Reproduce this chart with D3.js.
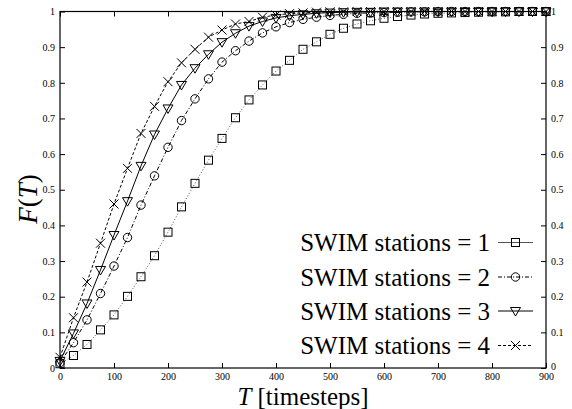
<!DOCTYPE html>
<html>
<head>
<meta charset="utf-8">
<script src="https://cdn.jsdelivr.net/npm/d3@7"></script>
<style>
  body { margin: 0; background: #fff; }
  svg { display: block; font-family: "Liberation Serif", "DejaVu Serif", serif; }
  .tick text { font-family: "Liberation Serif", serif; }
</style>
</head>
<body>
<svg></svg>
<script>
// timesteps where markers sit
const timesteps = d3.range(0, 901, 25);

// F(T) values, one per timestep
const swim1 = [0.012, 0.035, 0.066, 0.107, 0.149, 0.201, 0.256, 0.315, 0.381, 0.452,
  0.518, 0.583, 0.644, 0.702, 0.752, 0.794, 0.833, 0.863, 0.894, 0.915,
  0.936, 0.953, 0.965, 0.974, 0.981, 0.986, 0.99, 0.993, 0.995, 0.996,
  0.997, 0.998, 0.999, 0.999, 1, 1, 1];
const swim2 = [0.015, 0.071, 0.135, 0.209, 0.286, 0.366, 0.457, 0.539, 0.619, 0.694,
  0.755, 0.811, 0.858, 0.89, 0.917, 0.94, 0.957, 0.969, 0.978, 0.984,
  0.989, 0.992, 0.995, 0.996, 0.997, 0.998, 0.999, 0.999, 1, 1,
  1, 1, 1, 1, 1, 1, 1];
const swim3 = [0.02, 0.097, 0.181, 0.275, 0.373, 0.468, 0.567, 0.655, 0.728, 0.794,
  0.841, 0.88, 0.914, 0.939, 0.959, 0.972, 0.982, 0.988, 0.992, 0.995,
  0.997, 0.998, 0.999, 0.999, 1, 1, 1, 1, 1, 1,
  1, 1, 1, 1, 1, 1, 1];
const swim4 = [0.03, 0.141, 0.241, 0.35, 0.46, 0.56, 0.658, 0.734, 0.803, 0.856,
  0.894, 0.928, 0.948, 0.965, 0.972, 0.984, 0.99, 0.994, 0.996, 0.998,
  0.999, 0.999, 1, 1, 1, 1, 1, 1, 1, 1,
  1, 1, 1, 1, 1, 1, 1];

const legendLabels = ["SWIM stations = 1", "SWIM stations = 2", "SWIM stations = 3", "SWIM stations = 4"];
const xTicks = [0, 100, 200, 300, 400, 500, 600, 700, 800, 900];
const yTicks = [0, 0.1, 0.2, 0.3, 0.4, 0.5, 0.6, 0.7, 0.8, 0.9, 1];

// graph dimensions
const width = 572;
const height = 409;
const plotLeft = 60;
const plotRight = 546;
const plotTop = 11.5;
const plotBottom = 368;

const svg = d3.select("svg").attr("width", width).attr("height", height);

const xScale = d3.scaleLinear().domain([0, 900]).range([plotLeft, plotRight]);
const yScale = d3.scaleLinear().domain([0, 1]).range([plotBottom, plotTop]);

const series = [
  { values: swim1, dash: "1,2", stroke: "#555", marker: "square" },
  { values: swim2, dash: "4,2,1,2", stroke: "#000", marker: "circle" },
  { values: swim3, dash: null, stroke: "#000", marker: "triangle" },
  { values: swim4, dash: "3,2", stroke: "#000", marker: "cross" },
];

// axes, ticks pointing inward like gnuplot
const tickLen = 5;
const serif = "Liberation Serif, serif";

svg.append("g")
  .attr("transform", "translate(0," + plotBottom + ")")
  .call(d3.axisBottom(xScale).tickValues(xTicks).tickSize(-tickLen).tickPadding(5))
  .call((g) => g.select(".domain").remove());

svg.append("g")
  .attr("transform", "translate(0," + plotTop + ")")
  .call(d3.axisTop(xScale).tickValues(xTicks).tickSize(-tickLen).tickFormat(""))
  .call((g) => g.select(".domain").remove());

svg.append("g")
  .attr("transform", "translate(" + plotLeft + ",0)")
  .call(d3.axisLeft(yScale).tickValues(yTicks).tickSize(-tickLen).tickPadding(5).tickFormat(String))
  .call((g) => g.select(".domain").remove());

svg.append("g")
  .attr("class", "right-axis")
  .attr("transform", "translate(" + plotRight + ",0)")
  .call(d3.axisRight(yScale).tickValues(yTicks).tickSize(-tickLen).tickPadding(5).tickFormat(String))
  .call((g) => g.select(".domain").remove());

svg.selectAll("g").attr("font-family", serif);
svg.selectAll(".tick text")
  .style("font-family", serif)
  .attr("font-size", 10)
  .attr("fill", "#000");
svg.selectAll(".tick line").attr("stroke", "#000");

// keep the right "0" clear of the "900" below it
svg.selectAll(".right-axis .tick text")
  .filter((d) => d === 0)
  .attr("dy", "0.1em");

// frame
svg.append("rect")
  .attr("x", plotLeft).attr("y", plotTop)
  .attr("width", plotRight - plotLeft).attr("height", plotBottom - plotTop)
  .attr("fill", "none").attr("stroke", "#000").attr("stroke-width", 1.2);

const line = d3.line()
  .x((d, i) => xScale(timesteps[i]))
  .y((d) => yScale(d));

const drawMarker = (g, type, x, y) => {
  if (type === "square") {
    g.append("rect").attr("x", x - 4).attr("y", y - 4).attr("width", 8).attr("height", 8)
      .attr("fill", "none").attr("stroke", "#000").attr("stroke-width", 1);
  } else if (type === "circle") {
    g.append("circle").attr("cx", x).attr("cy", y).attr("r", 4.2)
      .attr("fill", "none").attr("stroke", "#000").attr("stroke-width", 1);
  } else if (type === "triangle") {
    g.append("path")
      .attr("d", "M" + (x - 5) + "," + (y - 3.5) + "L" + (x + 5) + "," + (y - 3.5) + "L" + x + "," + (y + 5) + "Z")
      .attr("fill", "none").attr("stroke", "#000").attr("stroke-width", 1);
  } else {
    g.append("path")
      .attr("d", "M" + (x - 4.5) + "," + (y - 4.5) + "L" + (x + 4.5) + "," + (y + 4.5) +
        "M" + (x - 4.5) + "," + (y + 4.5) + "L" + (x + 4.5) + "," + (y - 4.5))
      .attr("fill", "none").attr("stroke", "#000").attr("stroke-width", 1);
  }
};

series.forEach((s) => {
  svg.append("path")
    .datum(s.values)
    .attr("d", line)
    .attr("fill", "none")
    .attr("stroke", s.stroke)
    .attr("stroke-width", 1)
    .attr("stroke-dasharray", s.dash);

  const g = svg.append("g");
  s.values.forEach((v, i) => drawMarker(g, s.marker, xScale(timesteps[i]), yScale(v)));
});

// legend
const legendX = 490;
const legendY = [242.5, 277, 311, 345.5];
legendLabels.forEach((label, i) => {
  const s = series[i];
  svg.append("text")
    .attr("x", legendX).attr("y", legendY[i] + 8.5)
    .attr("text-anchor", "end")
    .attr("font-size", 25)
    .attr("fill", "#000")
    .text(label);
  svg.append("line")
    .attr("x1", 498).attr("x2", 533)
    .attr("y1", legendY[i]).attr("y2", legendY[i])
    .attr("stroke", s.stroke).attr("stroke-width", 1)
    .attr("stroke-dasharray", i === 0 ? null : s.dash);
  drawMarker(svg.append("g"), s.marker, 515.5, legendY[i]);
});

// axis labels
const xLabel = svg.append("text")
  .attr("x", (plotLeft + plotRight) / 2).attr("y", 405)
  .attr("text-anchor", "middle")
  .attr("font-size", 25);
xLabel.append("tspan").attr("font-style", "italic").text("T");
xLabel.append("tspan").text(" [timesteps]");

const yLabel = svg.append("text")
  .attr("transform", "translate(37,199) rotate(-90)")
  .attr("text-anchor", "middle")
  .attr("font-size", 27);
yLabel.append("tspan").attr("font-style", "italic").text("F");
yLabel.append("tspan").text("(");
yLabel.append("tspan").attr("font-style", "italic").text("T");
yLabel.append("tspan").text(")");
</script>
</body>
</html>
